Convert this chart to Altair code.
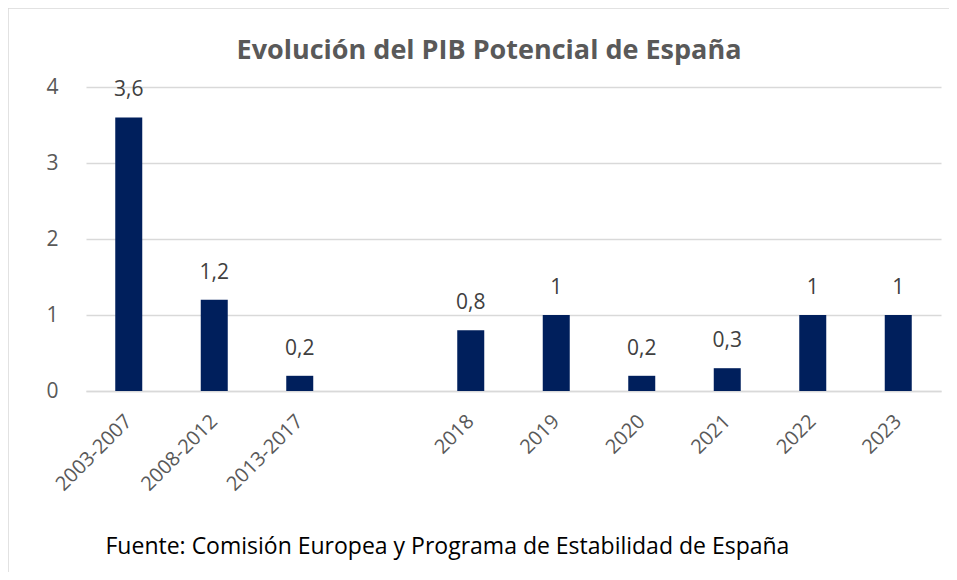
import altair as alt
import pandas as pd

categories = ["2003-2007", "2008-2012", "2013-2017", " ", "2018", "2019", "2020", "2021", "2022", "2023"]
values = [3.6, 1.2, 0.2, None, 0.8, 1.0, 0.2, 0.3, 1.0, 1.0]
title_text = "Evolución del PIB Potencial de España"
source_text = "Fuente: Comisión Europea y Programa de Estabilidad de España"

rows = []
for c, v in zip(categories, values):
    if v is None:
        continue
    lab = f"{v:g}".replace(".", ",")
    rows.append({"periodo": c, "valor": v, "etiqueta": lab})
df = pd.DataFrame(rows)

FONT = "Open Sans"
GRAY = "#595959"
GRID = "#d9d9d9"
NAVY = "#001F5C"

x_enc = alt.X(
    "periodo:N",
    sort=categories,
    scale=alt.Scale(domain=categories, paddingInner=0, paddingOuter=0),
    axis=alt.Axis(
        title=source_text,
        titleX=19, titleY=162, titleAnchor="start", titleAlign="left",
        titleBaseline="alphabetic", titleFontSize=23, titleFontWeight="normal",
        titleColor="#000000", titleFont=FONT,
        labelAngle=-45, labelAlign="right", labelBaseline="middle",
        labelFontSize=20, labelColor=GRAY, labelFont=FONT, labelPadding=27,
        ticks=False, domainColor=GRID, domainWidth=1.5, grid=False,
    ),
)
y_enc = alt.Y(
    "valor:Q",
    scale=alt.Scale(domain=[0, 4]),
    axis=alt.Axis(
        title=None, values=[0, 1, 2, 3, 4], format="d",
        labelFontSize=21, labelColor=GRAY, labelFont=FONT, labelPadding=28,
        ticks=False, domain=False, gridColor=GRID, gridWidth=1.5,
    ),
)

base = alt.Chart(df)
bars = base.mark_bar(width=27, color=NAVY).encode(x=x_enc, y=y_enc)
labels = base.mark_text(
    fontSize=21, color="#404040", font=FONT, baseline="alphabetic", dy=-21
).encode(x=alt.X("periodo:N", sort=categories), y="valor:Q", text="etiqueta:N")

frame_df = pd.DataFrame({"k": [0]})
top_border = alt.Chart(frame_df).mark_rule(color=GRID, strokeWidth=1.5).encode(
    x=alt.value(-78), x2=alt.value(871), y=alt.value(-79)
)
left_border = alt.Chart(frame_df).mark_rule(color=GRID, strokeWidth=1.5).encode(
    x=alt.value(-78), y=alt.value(-79), y2=alt.value(490)
)
title_df = pd.DataFrame({"t": [title_text]})
title_mark = alt.Chart(title_df).mark_text(
    font=FONT, fontSize=27, fontWeight="bold", color=GRAY,
    align="center", baseline="alphabetic",
).encode(x=alt.value(403), y=alt.value(-28), text="t:N")

chart = alt.layer(bars, labels, top_border, left_border, title_mark).properties(
    width=855,
    height=304,
    padding={"left": 78, "top": 79, "right": 8, "bottom": 181},
    autosize=alt.AutoSizeParams(type="none"),
).configure_view(stroke=None)

chart.save("out.html", embed_options={"renderer": "svg", "actions": False})
